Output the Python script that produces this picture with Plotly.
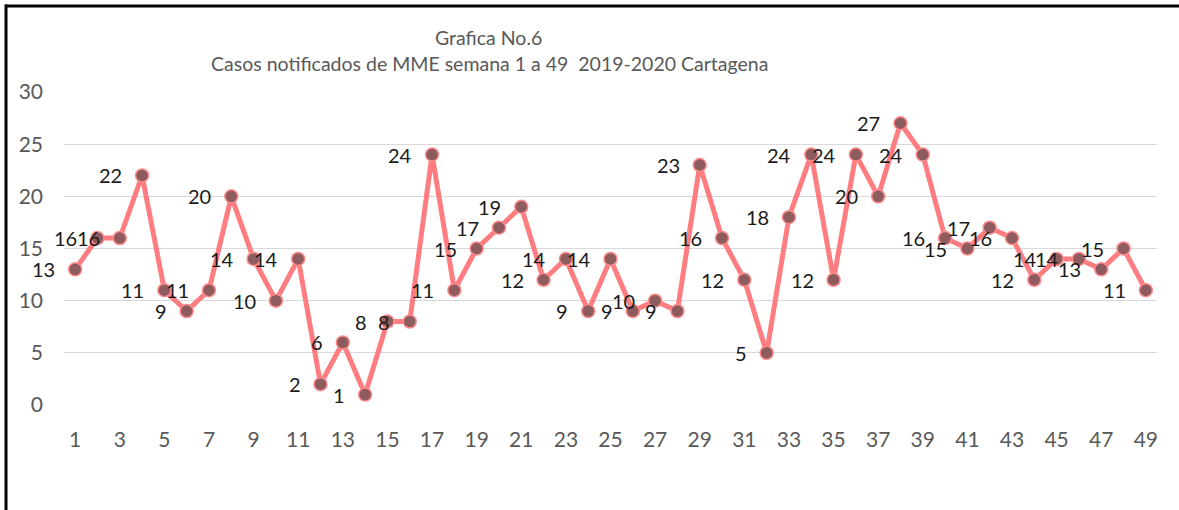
import plotly.graph_objects as go

weeks = list(range(1, 50))
cases = [13, 16, 16, 22, 11, 9, 11, 20, 14, 10, 14, 2, 6, 1, 8, 8, 24, 11, 15, 17,
         19, 12, 14, 9, 14, 9, 10, 9, 23, 16, 12, 5, 18, 24, 12, 24, 20, 27, 24, 16,
         15, 17, 16, 12, 14, 14, 13, 15, 11]
x_ticks = list(range(1, 50, 2))
y_ticks = [0, 5, 10, 15, 20, 25, 30]
title_main = "Grafica No.6"
title_sub = "Casos notificados de MME semana 1 a 49  2019-2020 Cartagena"

FONT = "Lato"
W, H = 1179, 510
ML, MR, MT, MB = 64, 22, 92, 105

fig = go.Figure()
fig.add_trace(go.Scatter(
    x=weeks, y=cases, mode="lines+markers",
    line=dict(color="#FF7C80", width=5),
    marker=dict(size=13, color="#8E5B5E", line=dict(color="#FF8A8C", width=1.5)),
    hoverinfo="x+y", showlegend=False,
))

annotations = []
for w, c in zip(weeks, cases):
    annotations.append(dict(
        x=w, y=c, xref="x", yref="y", text=str(c), showarrow=False,
        xanchor="right", yanchor="middle", xshift=-18,
        font=dict(family=FONT, size=20, color="#1A1A1A"),
    ))

pw = W - ML - MR
ph = H - MT - MB
def px_x(p):
    return (p - ML) / pw
def px_y(p):
    return 1 - (p - MT) / ph

annotations.append(dict(x=px_x(488), y=px_y(38), xref="paper", yref="paper",
                        text=title_main, showarrow=False, xanchor="center", yanchor="middle",
                        font=dict(family=FONT, size=19.5, color="#595959")))
annotations.append(dict(x=px_x(489), y=px_y(63), xref="paper", yref="paper",
                        text=title_sub, showarrow=False, xanchor="center", yanchor="middle",
                        font=dict(family=FONT, size=19.5, color="#595959")))

shapes = [
    dict(type="rect", xref="paper", yref="paper", x0=px_x(5), x1=px_x(W),
         y0=px_y(7.5), y1=px_y(4.5), line=dict(width=0), fillcolor="#000000", layer="above"),
    dict(type="rect", xref="paper", yref="paper", x0=px_x(4.5), x1=px_x(7.5),
         y0=px_y(H), y1=px_y(4.5), line=dict(width=0), fillcolor="#000000", layer="above"),
]

fig.update_layout(
    width=W, height=H,
    margin=dict(l=ML, r=MR, t=MT, b=MB),
    paper_bgcolor="white", plot_bgcolor="white",
    annotations=annotations, shapes=shapes,
    xaxis=dict(range=[0.5, 49.5], tickvals=x_ticks, showgrid=False, zeroline=False,
               showline=False, ticks="", ticklabelstandoff=20,
               tickfont=dict(family=FONT, size=21, color="#595959")),
    yaxis=dict(range=[0, 30], tickvals=y_ticks, showgrid=True, gridcolor="#D9D9D9",
               gridwidth=1, zeroline=False, showline=False, ticks="", ticklabelstandoff=20,
               tickfont=dict(family=FONT, size=21, color="#595959")),
)

fig.write_html("out.html", config={"displayModeBar": False},
               post_script="document.body.style.margin='0px';document.body.style.overflow='hidden';")
